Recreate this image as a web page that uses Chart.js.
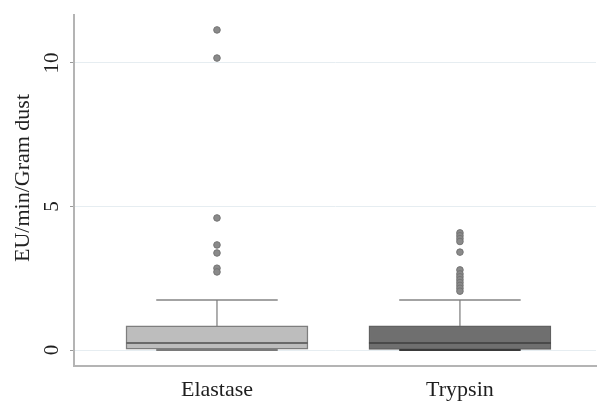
<!DOCTYPE html>
<html>
<head>
<meta charset="utf-8">
<script src="https://cdn.jsdelivr.net/npm/chart.js@4/dist/chart.umd.min.js"></script>
<style>
  html, body { margin: 0; padding: 0; background: #fff; }
  canvas { display: block; }
</style>
</head>
<body>
<canvas id="boxChart" width="602" height="401"></canvas>
<script>
// box plot values
const CATEGORIES = ['Elastase', 'Trypsin'];
const WHISKER_LOW = [0, 0];
const Q1 = [0.03, 0.0];
const MEDIAN = [0.24, 0.24];
const Q3 = [0.84, 0.84];
const WHISKER_HIGH = [1.74, 1.74];
const OUTLIERS = [
  [11.15, 10.17, 4.6, 3.66, 3.38, 2.85, 2.72],
  [4.08, 3.98, 3.88, 3.78, 3.41, 2.79, 2.65, 2.55, 2.45, 2.35, 2.25, 2.15, 2.05]
];
const Y_TICKS = [0, 5, 10];
const Y_TITLE = 'EU/min/Gram dust';

const BOX_FILL = ['#bdbdbd', '#6f6f6f'];
const BOX_EDGE = ['#7e7e7e', '#616161'];
const MEDIAN_COLOR = ['#6a6a6a', '#4a4a4a'];
const LOW_CAP_COLOR = ['#7a7a7a', '#3a3a3a'];
const BOX_HALF = 0.3745;   // in x units (1 unit = one category step)
const CAP_HALF = 0.25;
const FONT = '"Liberation Serif", "Times New Roman", serif';

function segment(x1, y1, x2, y2, color, width) {
  return {
    type: 'line',
    data: [{ x: x1, y: y1 }, { x: x2, y: y2 }],
    borderColor: color,
    borderWidth: width,
    pointRadius: 0,
    fill: false,
    order: 2
  };
}

const datasets = [{
  type: 'bar',
  data: CATEGORIES.map((c, i) => ({ x: i + 1, y: [Q1[i], Q3[i]] })),
  backgroundColor: BOX_FILL,
  borderColor: BOX_EDGE,
  borderWidth: 1.5,
  borderSkipped: false,
  barThickness: 182,
  order: 3
}];

CATEGORIES.forEach((c, i) => {
  const x = i + 1;
  datasets.push(segment(x, Q3[i], x, WHISKER_HIGH[i], '#7a7a7a', 1.2));
  datasets.push(segment(x, Q1[i], x, WHISKER_LOW[i], '#7a7a7a', 1.2));
  datasets.push(segment(x - CAP_HALF, WHISKER_HIGH[i], x + CAP_HALF, WHISKER_HIGH[i], '#858585', 1.5));
  datasets.push(segment(x - CAP_HALF, WHISKER_LOW[i], x + CAP_HALF, WHISKER_LOW[i], LOW_CAP_COLOR[i], 2));
  datasets.push(segment(x - BOX_HALF, MEDIAN[i], x + BOX_HALF, MEDIAN[i], MEDIAN_COLOR[i], 2));
  datasets.push({
    type: 'scatter',
    data: OUTLIERS[i].map(v => ({ x: x, y: v })),
    backgroundColor: '#8a8a8a',
    borderColor: '#747474',
    borderWidth: 1,
    pointRadius: 3.3,
    order: 1
  });
});

const yTitle = {
  id: 'yTitle',
  afterDraw(chart) {
    const ctx = chart.ctx;
    ctx.save();
    ctx.translate(23.5, 178);
    ctx.rotate(-Math.PI / 2);
    ctx.font = '22px ' + FONT;
    ctx.fillStyle = '#222';
    ctx.textAlign = 'center';
    ctx.textBaseline = 'middle';
    ctx.fillText(Y_TITLE, 0, 0);
    ctx.restore();
  }
};

new Chart(document.getElementById('boxChart'), {
  type: 'bar',
  data: { datasets },
  options: {
    responsive: false,
    animation: false,
    layout: { padding: { top: 15, right: 6, bottom: 0, left: 0 } },
    plugins: { legend: { display: false }, tooltip: { enabled: false } },
    scales: {
      x: {
        type: 'linear',
        min: 0.4115,
        max: 2.56,
        offset: false,
        afterBuildTicks: s => { s.ticks = CATEGORIES.map((c, i) => ({ value: i + 1 })); },
        afterFit: s => { s.height = 35; s.paddingLeft = 0; s.paddingRight = 0; },
        grid: { display: false, drawTicks: false, tickLength: 0, offset: false },
        border: { display: true, color: '#b4b4b4', width: 2 },
        ticks: {
          padding: 11,
          color: '#1e1e1e',
          font: { family: FONT, size: 22 },
          maxRotation: 0,
          callback: v => CATEGORIES[v - 1]
        }
      },
      y: {
        min: -0.557,
        max: 11.67,
        afterBuildTicks: s => { s.ticks = Y_TICKS.map(v => ({ value: v })); },
        afterFit: s => { s.width = 74; s.paddingTop = 0; s.paddingBottom = 0; },
        grid: { color: '#e6edf1', lineWidth: 1, tickColor: '#9a9a9a', tickLength: 4, tickWidth: 1 },
        border: { display: true, color: '#b4b4b4', width: 2 },
        ticks: {
          padding: 7.5,
          color: '#1e1e1e',
          font: { family: FONT, size: 21 },
          minRotation: 90,
          maxRotation: 90,
          crossAlign: 'center'
        }
      }
    }
  },
  plugins: [yTitle]
});
</script>
</body>
</html>
